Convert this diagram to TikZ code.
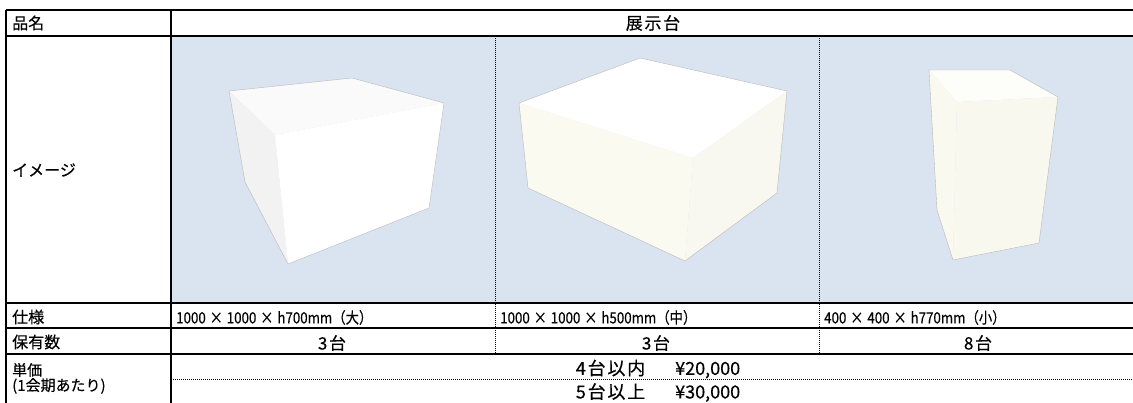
\documentclass[tikz,border=0pt]{standalone}
\usepackage{fontspec}
\setmainfont{Noto Sans CJK JP}[FakeBold=0.35]
\newfontfamily\spacedfont{Noto Sans CJK JP}[FakeBold=0.35,LetterSpace=10]
\newfontfamily\specfont{Noto Sans CJK JP}[FakeBold=0.3,FakeStretch=0.86]
\newcommand{\mulsign}{\makebox[21pt]{×}}
\begin{document}
\begin{tikzpicture}[x=1pt,y=-1pt,
  grid/.style={line width=1.5pt,black},
  dotgrid/.style={line width=1pt,black,dash pattern=on 1pt off 1pt},
  lab/.style={anchor=west,inner sep=0pt,font=\fontsize{16}{18}\selectfont},
  big/.style={inner sep=0pt,font=\spacedfont\fontsize{17}{19}\selectfont},
  price/.style={inner sep=0pt,font=\fontsize{18}{20}\selectfont},
  spec/.style={anchor=west,inner sep=0pt,font=\specfont\fontsize{15.5}{17}\selectfont},
  edge/.style={draw=gray!55,line width=0.4pt,line join=round}]
\useasboundingbox (0,0) rectangle (1133,403);
\fill[white] (0,0) rectangle (1133,403);
% image row background
\fill[fill={rgb,255:red,218;green,227;blue,240}] (171,36) rectangle (1133,303);
% cube 1
\coordinate (a1) at (229,91); \coordinate (b1) at (352,78); \coordinate (c1) at (444,103);
\coordinate (d1) at (275,135); \coordinate (e1) at (245,182); \coordinate (f1) at (288,264);
\coordinate (g1) at (429,208);
\fill[white!98!black] (a1) -- (b1) -- (c1) -- (d1) -- cycle;
\fill[white!95!black] (a1) -- (d1) -- (f1) -- (e1) -- cycle;
\fill[white] (d1) -- (c1) -- (g1) -- (f1) -- cycle;
\draw[edge] (a1) -- (b1) -- (c1) -- (g1) -- (f1) -- (e1) -- cycle;
% cube 2
\coordinate (a2) at (519,103); \coordinate (b2) at (640,58); \coordinate (c2) at (787,91);
\coordinate (d2) at (693,158); \coordinate (e2) at (528,188); \coordinate (f2) at (685,261);
\coordinate (g2) at (777,193);
\fill[white] (a2) -- (b2) -- (c2) -- (d2) -- cycle;
\fill[fill={rgb,255:red,250;green,250;blue,241}] (a2) -- (d2) -- (f2) -- (e2) -- cycle;
\fill[fill={rgb,255:red,248;green,248;blue,240}] (d2) -- (c2) -- (g2) -- (f2) -- cycle;
\draw[edge] (a2) -- (b2) -- (c2) -- (g2) -- (f2) -- (e2) -- cycle;
% cube 3
\coordinate (a3) at (929,70); \coordinate (b3) at (1010,70); \coordinate (c3) at (1058,97);
\coordinate (d3) at (957,102); \coordinate (e3) at (937,210); \coordinate (f3) at (953,260);
\coordinate (g3) at (1039,243);
\fill[fill={rgb,255:red,253;green,253;blue,249}] (a3) -- (b3) -- (c3) -- (d3) -- cycle;
\fill[fill={rgb,255:red,250;green,249;blue,240}] (a3) -- (d3) -- (f3) -- (e3) -- cycle;
\fill[fill={rgb,255:red,249;green,248;blue,238}] (d3) -- (c3) -- (g3) -- (f3) -- cycle;
\draw[edge] (a3) -- (b3) -- (c3) -- (g3) -- (f3) -- (e3) -- cycle;
% grid
\draw[grid] (6,10) -- (1133,10);
\draw[grid] (6,36) -- (1133,36);
\draw[grid] (6,303) -- (1133,303);
\draw[grid] (6,328) -- (1133,328);
\draw[grid] (6,354) -- (1133,354);
\draw[grid] (6,10) -- (6,403);
\draw[grid] (171,10) -- (171,403);
\draw[dotgrid] (495,36) -- (495,354);
\draw[dotgrid] (819,36) -- (819,354);
\draw[dotgrid] (171,379.5) -- (1133,379.5);
% texts
\node[lab] (n1) at (12,23) {品名};
\node[big] (h1) at (653,23) {展示台};
\node[lab] (n2) at (12,170) {イメージ};
\node[lab] (n3) at (12,317) {仕様};
\node[spec] (s1) at (176,317.5) {1000\mulsign 1000\mulsign h700mm（大）};
\node[spec] (s2) at (500,317.5) {1000\mulsign 1000\mulsign h500mm（中）};
\node[spec] (s3) at (824,317.5) {400\mulsign 400\mulsign h770mm（小）};
\node[lab] (n4) at (12,342) {保有数};
\node[big] (q1) at (332,343) {3台};
\node[big] (q2) at (656,343) {3台};
\node[big] (q3) at (978,343) {8台};
\node[lab,font=\fontsize{15}{16}\selectfont] (n5) at (12,370) {単価};
\node[lab,font=\fontsize{15}{16}\selectfont] (n6) at (12,386) {(1会期あたり)};
\node[price] (p1) at (658,369) {{\spacedfont 4台以内}\hspace{30pt}¥20,000};
\node[price] (p2) at (658,392.5) {{\spacedfont 5台以上}\hspace{30pt}¥30,000};
\end{tikzpicture}
\end{document}
